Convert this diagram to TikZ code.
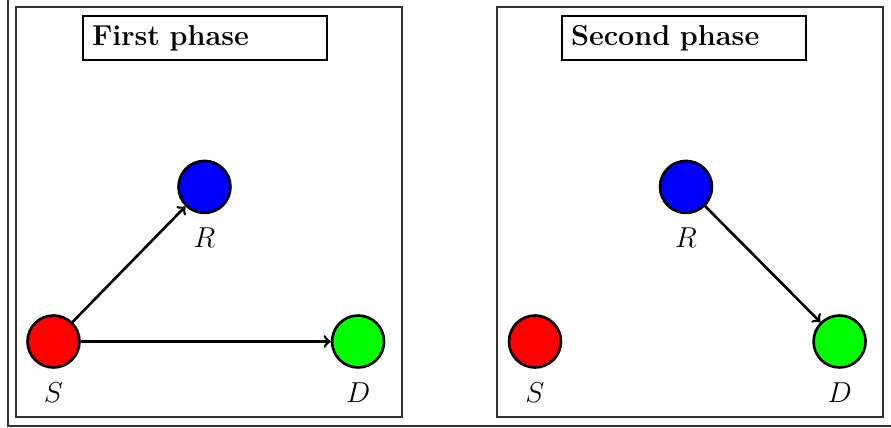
\documentclass[tikz,border=0pt]{standalone}
\usetikzlibrary{positioning}
\tikzset{
  station/.style={circle, draw=black, line width=1.3pt, minimum size=26pt, inner sep=0pt},
  phase/.style={draw=black!80, line width=0.6pt, minimum width=193pt, minimum height=205pt, inner sep=0pt},
  title/.style={draw=black, line width=0.6pt, font=\Large\bfseries, text width=113pt, align=left, inner sep=4.5pt, minimum height=22pt},
  link/.style={->, line width=1.3pt}
}

\begin{document}
\begin{tikzpicture}[x=0.5pt, y=-0.5pt, node distance=50pt, label distance=3.5pt, every label/.style={font=\Large}]
  \useasboundingbox (0,0) rectangle (891,428);
  % outer frame
  \draw[black!80, line width=0.6pt] (8,0) -- (8,426) -- (891,426);

  % Panels
  \node (frame1) [phase] at (209,212) {};
  \node (frame2) [phase] at (690,212) {};
  \node (title1) [title, below=4.5pt of frame1.north, xshift=-2pt] {First phase};
  \node (title2) [title, below=4.5pt of frame2.north, xshift=-3pt] {Second phase};

  % Nodes
  \node (s1) [station, fill=red, label=below:$S$] at (53.5,341.5) {};
  \node (d1) [station, fill=green, right=125pt of s1, label=below:$D$] {};
  \node (r1) [station, fill=blue, above=50pt of s1, xshift=75.5pt, label=below:$R$] {};

  \node (s2) [station, fill=red, label=below:$S$] at (535,341.5) {};
  \node (d2) [station, fill=green, right=125pt of s2, label=below:$D$] {};
  \node (r2) [station, fill=blue, above=50pt of s2, xshift=75.5pt, label=below:$R$] {};

  \draw[link] (s1) -- (r1);
  \draw[link] (s1) -- (d1);
  \draw[link] (r2) -- (d2);
\end{tikzpicture}
\end{document}
